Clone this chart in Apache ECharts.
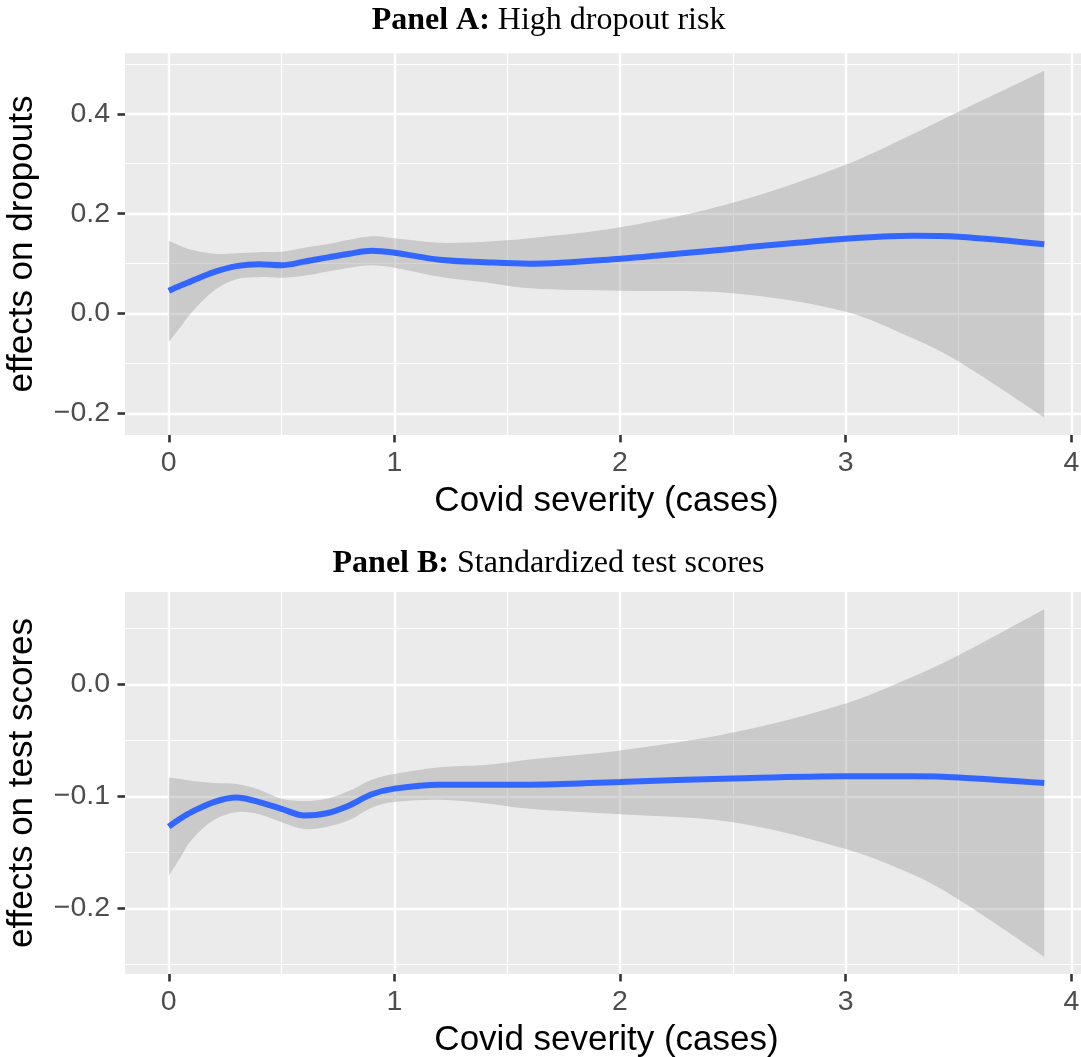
<!DOCTYPE html>
<html>
<head>
<meta charset="utf-8">
<script src="https://cdn.jsdelivr.net/npm/echarts@6/dist/echarts.min.js"></script>
<style>html,body{margin:0;padding:0;background:#fff}#c{width:1081px;height:1057px}</style>
</head>
<body>
<div id="c"></div>
<script>
// ---- data ----
const xs = [0, 0.05, 0.1, 0.2, 0.3, 0.4, 0.5, 0.6, 0.7, 0.8, 0.9, 1.0, 1.2, 1.4, 1.6, 2.0, 2.5, 3.0, 3.3, 3.5, 3.88];

const fitA   = [0.046, 0.056, 0.065, 0.083, 0.095, 0.099, 0.097, 0.104, 0.112, 0.120, 0.126, 0.122, 0.108, 0.103, 0.100, 0.110, 0.130, 0.150, 0.156, 0.154, 0.139];
const upperA = [0.146, 0.136, 0.128, 0.120, 0.121, 0.123, 0.124, 0.132, 0.139, 0.148, 0.155, 0.151, 0.142, 0.144, 0.151, 0.173, 0.222, 0.298, 0.360, 0.404, 0.486];
const lowerA = [-0.057, -0.028, 0.002, 0.046, 0.069, 0.073, 0.072, 0.076, 0.084, 0.092, 0.097, 0.092, 0.074, 0.063, 0.051, 0.046, 0.041, 0.004, -0.050, -0.096, -0.208];

const fitB   = [-0.127, -0.120, -0.114, -0.105, -0.101, -0.105, -0.111, -0.117, -0.115, -0.108, -0.098, -0.093, -0.0895, -0.0895, -0.0895, -0.087, -0.084, -0.082, -0.082, -0.083, -0.088];
const upperB = [-0.083, -0.0845, -0.086, -0.088, -0.089, -0.094, -0.102, -0.104, -0.102, -0.095, -0.085, -0.080, -0.074, -0.072, -0.067, -0.059, -0.043, -0.017, 0.007, 0.026, 0.067];
const lowerB = [-0.171, -0.155, -0.139, -0.121, -0.114, -0.116, -0.123, -0.129, -0.127, -0.121, -0.110, -0.105, -0.103, -0.106, -0.111, -0.116, -0.123, -0.147, -0.170, -0.192, -0.243];

const xTicks = [0, 1, 2, 3, 4];
const xMinor = [0.5, 1.5, 2.5, 3.5];
const yTicksA = [-0.2, 0.0, 0.2, 0.4];
const yMinorA = [-0.1, 0.1, 0.3, 0.5];
const yTicksB = [-0.2, -0.1, 0.0];
const yMinorB = [-0.25, -0.15, -0.05, 0.05];

const titleA = ['Panel A:', 'High dropout risk'];
const titleB = ['Panel B:', 'Standardized test scores'];
const xName = 'Covid severity (cases)';
const yNameA = 'effects on dropouts';
const yNameB = 'effects on test scores';

// ---- helpers ----
const pairs = (xa, ya) => xa.map((x, i) => [x, ya[i]]);
const fmt = v => (v < 0 ? '\u2212' : '') + Math.abs(v).toFixed(1);

const SANS = 'Liberation Sans, Arial, sans-serif';
const SERIF = 'Liberation Serif, Times New Roman, serif';
const BG = '#EBEBEB';

function xAxisCfg(gi) {
  return {
    type: 'value', gridIndex: gi, min: -0.194, max: 4.074,
    axisLine: { show: false, onZero: false },
    splitLine: { show: false },
    axisTick: { show: true, customValues: xTicks, length: 7.5, lineStyle: { color: '#333333', width: 2.6 } },
    axisLabel: { customValues: xTicks, margin: 14, fontSize: 28.5, color: '#4D4D4D', fontFamily: SANS },
    name: xName, nameLocation: 'middle', nameGap: 49,
    nameTextStyle: { fontSize: 35, color: '#000', fontFamily: SANS }
  };
}
function yAxisCfg(gi, min, max, ticks, name) {
  return {
    type: 'value', gridIndex: gi, min: min, max: max,
    axisLine: { show: false, onZero: false },
    splitLine: { show: false },
    axisTick: { show: true, customValues: ticks, length: 7.5, lineStyle: { color: '#333333', width: 2.6 } },
    axisLabel: { customValues: ticks, margin: 15, fontSize: 28.5, color: '#4D4D4D', fontFamily: SANS, formatter: fmt },
    name: name, nameLocation: 'middle', nameGap: 85,
    nameTextStyle: { fontSize: 35, color: '#000', fontFamily: SANS }
  };
}
function gridLines(gi, yMaj, yMin) {
  const mk = (arr, key, w) => arr.map(v => ({ [key]: v, lineStyle: { color: '#FFFFFF', width: w, type: 'solid', opacity: 1 } }));
  return {
    type: 'line', xAxisIndex: gi, yAxisIndex: gi, data: [], silent: true, z: 1,
    markLine: {
      silent: true, z: 1, symbol: ['none', 'none'], animation: false,
      label: { show: false }, emphasis: { disabled: true },
      data: [].concat(mk(xMinor, 'xAxis', 1.2), mk(yMin, 'yAxis', 1.2), mk(xTicks, 'xAxis', 2.4), mk(yMaj, 'yAxis', 2.4))
    }
  };
}
// confidence ribbon: one closed polygon through the upper band and back along the lower band
function ribbon(gi, up, lo) {
  const rows = xs.map((x, i) => [x, lo[i], up[i]]);
  return {
    type: 'custom', xAxisIndex: gi, yAxisIndex: gi, z: 3, silent: true,
    data: rows, encode: { x: 0, y: [1, 2] },
    renderItem: function (params, api) {
      if (params.dataIndex !== 0) return null;
      const U = rows.map(r => api.coord([r[0], r[2]]));
      const L = rows.map(r => api.coord([r[0], r[1]]));
      const n = U.length - 1;
      // corner points are doubled so the two vertical ends stay straight
      const pts = [U[0]].concat(U, [U[n], L[n]], L.slice().reverse(), [L[0]]);
      return {
        type: 'polygon',
        shape: { points: pts, smooth: 0.35 },
        style: { fill: '#999999', opacity: 0.4 }
      };
    }
  };
}
function fitLine(gi, ys) {
  return { type: 'line', xAxisIndex: gi, yAxisIndex: gi, z: 4, data: pairs(xs, ys),
    smooth: 0.35, showSymbol: false, symbol: 'none', silent: true,
    lineStyle: { color: '#3366FF', width: 6 } };
}
function titleText(y, parts) {
  return {
    type: 'text', x: 548.5, y: y, z: 10,
    style: {
      text: '{b|' + parts[0] + '} ' + parts[1],
      fontFamily: SERIF, fontSize: 32, fill: '#000',
      textAlign: 'center', textVerticalAlign: 'middle',
      rich: { b: { fontWeight: 'bold', fontFamily: SERIF, fontSize: 32, fill: '#000' } }
    }
  };
}

const chart = echarts.init(document.getElementById('c'), null, { renderer: 'canvas' });
chart.setOption({
  animation: false,
  backgroundColor: '#FFFFFF',
  grid: [
    { left: 125, top: 53.2, width: 963, height: 381.7, show: true, backgroundColor: BG, borderWidth: 0, containLabel: false, outerBoundsMode: 'none' },
    { left: 125, top: 592, width: 963, height: 382, show: true, backgroundColor: BG, borderWidth: 0, containLabel: false, outerBoundsMode: 'none' }
  ],
  xAxis: [xAxisCfg(0), xAxisCfg(1)],
  yAxis: [
    yAxisCfg(0, -0.2427, 0.5212, yTicksA, yNameA),
    yAxisCfg(1, -0.2585, 0.0825, yTicksB, yNameB)
  ],
  graphic: [titleText(21, titleA), titleText(564, titleB)],
  series: [
    gridLines(0, yTicksA, yMinorA), ribbon(0, upperA, lowerA), fitLine(0, fitA),
    gridLines(1, yTicksB, yMinorB), ribbon(1, upperB, lowerB), fitLine(1, fitB)
  ]
});
</script>
</body>
</html>
